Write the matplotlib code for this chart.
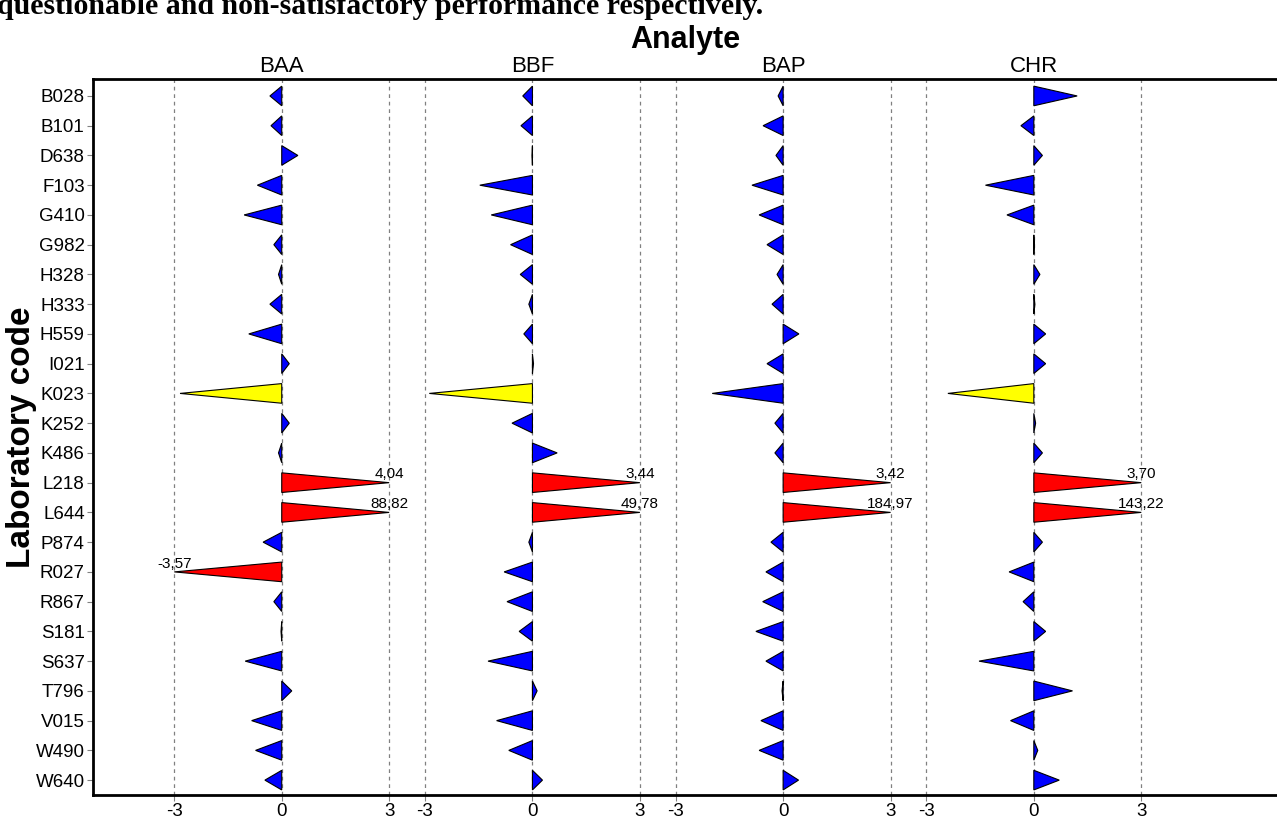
import matplotlib
matplotlib.use("Agg")
import matplotlib.pyplot as plt
import numpy as np

# laboratory codes (top to bottom)
labs = ["B028", "B101", "D638", "F103", "G410", "G982", "H328", "H333",
        "H559", "I021", "K023", "K252", "K486", "L218", "L644", "P874",
        "R027", "R867", "S181", "S637", "T796", "V015", "W490", "W640"]

analytes = ["BAA", "BBF", "BAP", "CHR"]

# z-scores per analyte
z_baa = [-0.33, -0.30, 0.45, -0.68, -1.05, -0.22, -0.09, -0.33,
         -0.92, 0.21, -2.84, 0.21, -0.09, 4.04, 88.82, -0.52,
         -3.57, -0.22, -0.02, -1.02, 0.28, -0.84, -0.73, -0.47]
z_bbf = [-0.27, -0.32, -0.01, -1.47, -1.15, -0.61, -0.34, -0.10,
         -0.24, 0.03, -2.88, -0.57, 0.69, 3.44, 49.78, -0.10,
         -0.79, -0.71, -0.37, -1.24, 0.13, -1.00, -0.66, 0.28]
z_bap = [-0.14, -0.56, -0.20, -0.87, -0.67, -0.45, -0.17, -0.31,
         0.44, -0.45, -1.98, -0.23, -0.23, 3.42, 184.97, -0.34,
         -0.48, -0.57, -0.76, -0.48, -0.03, -0.62, -0.67, 0.43]
z_chr = [1.21, -0.36, 0.24, -1.35, -0.75, 0.01, 0.17, 0.03,
         0.33, 0.33, -2.40, 0.05, 0.24, 3.70, 143.22, 0.24,
         -0.69, -0.30, 0.33, -1.53, 1.08, -0.65, 0.11, 0.71]

z_all = [z_baa, z_bbf, z_bap, z_chr]

# horizontal offset of each analyte block on the shared x axis
offsets = [0, 7, 14, 21]
limit = 3
half = 0.33

plt.rcParams["font.family"] = ["Liberation Sans", "DejaVu Sans"]

fig = plt.figure(figsize=(12.77, 8.23), dpi=100)
ax = fig.add_axes([93 / 1277, 1 - 795 / 823, 1 - 93 / 1277, (795 - 79) / 823])

y = np.arange(len(labs))

for off, name, zs in zip(offsets, analytes, z_all):
    # reference lines at -3, 0, 3
    for v in (-limit, 0, limit):
        ax.axvline(off + v, color="#808080", lw=0.9, ls=(0, (3, 3)), zorder=1)

    for yi, z in zip(y, zs):
        az = abs(z)
        if az > limit:
            color = "#FF0000"
        elif az > 2:
            color = "#FFFF00"
        else:
            color = "#0000FF"
        zc = np.clip(z, -limit, limit)
        ax.fill([off, off, off + zc], [yi - half, yi + half, yi],
                facecolor=color, edgecolor="black", lw=0.8, zorder=3)
        # out-of-range values get their real value printed at the tip
        if az > limit:
            ax.text(off + zc, yi - 0.14, f"{z:.2f}".replace(".", ","),
                    ha="center", va="baseline", fontsize=11, zorder=4)

    # analyte name above the top spine
    ax.annotate(name, xy=(off, 1.0), xycoords=("data", "axes fraction"),
                xytext=(0, 5), textcoords="offset points",
                ha="center", va="baseline", fontsize=16)

ax.set_xlim(-5.27, 27.79)
ax.set_ylim(23.5, -0.57)

xt = [off + v for off in offsets for v in (-limit, 0, limit)]
ax.set_xticks(xt)
ax.set_xticklabels([str(v) for off in offsets for v in (-limit, 0, limit)])
ax.set_yticks(y)
ax.set_yticklabels(labs)
ax.tick_params(axis="both", direction="out", length=4, width=0.8,
               color="#808080", labelsize=13.5, pad=2)

for side in ("left", "bottom", "top"):
    ax.spines[side].set_linewidth(2)
    ax.spines[side].set_color("black")
ax.spines["right"].set_visible(False)

# axis titles
fig.text(685 / 1277, 1 - 48 / 823, "Analyte", ha="center", va="baseline",
         fontsize=22, fontweight="bold")
fig.text(22 / 1277, 1 - 437 / 823, "Laboratory code", rotation=90,
         ha="center", va="center", fontsize=24, fontweight="bold")

# caption line running off the top of the page
fig.text(-3 / 1277, 1 - 14 / 823,
         "questionable and non-satisfactory performance respectively.",
         ha="left", va="baseline", fontsize=21.5, fontweight="bold",
         family=["Liberation Serif", "DejaVu Serif"])

fig.savefig("out.png", dpi=100)
